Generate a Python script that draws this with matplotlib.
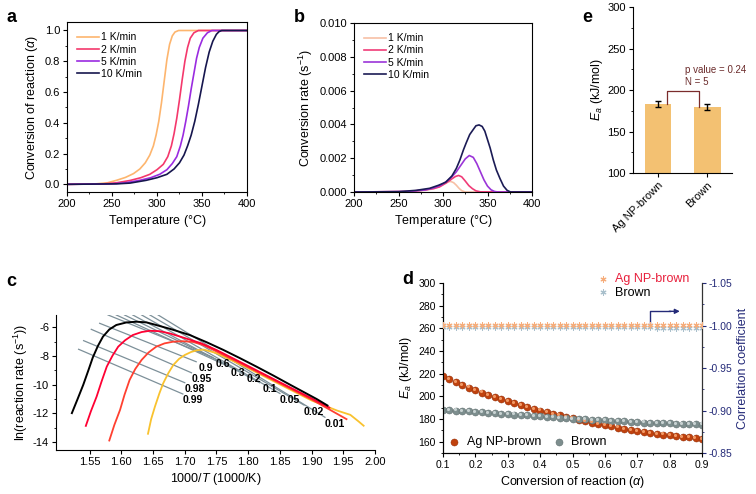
import numpy as np
import matplotlib
matplotlib.use('Agg')
import matplotlib.pyplot as plt
from matplotlib.ticker import MultipleLocator, FormatStrFormatter
from matplotlib import transforms

plt.rcParams['font.family'] = ['Liberation Sans', 'DejaVu Sans']
plt.rcParams['mathtext.fontset'] = 'custom'
plt.rcParams['mathtext.rm'] = 'Liberation Sans'
plt.rcParams['mathtext.it'] = 'Liberation Sans:italic'
plt.rcParams['mathtext.bf'] = 'Liberation Sans:bold'
plt.rcParams['axes.unicode_minus'] = False
plt.rcParams['axes.linewidth'] = 0.8

# ---- panel a : conversion vs temperature ----
rates = ['1 K/min', '2 K/min', '5 K/min', '10 K/min']
a_T1 = [200, 230, 245, 255, 265, 274, 281, 287, 292, 296, 299, 302, 305, 308, 311, 314, 317, 320, 324, 400]
a_y1 = [0, 0.002, 0.01, 0.026, 0.045, 0.07, 0.1, 0.14, 0.19, 0.25, 0.32, 0.41, 0.53, 0.67, 0.81, 0.91, 0.965, 0.99, 1.0, 1.0]
a_T2 = [200, 240, 255, 270, 282, 292, 300, 307, 312, 316, 319, 322, 325, 328, 331, 334, 337, 341, 346, 400]
a_y2 = [0, 0.003, 0.01, 0.025, 0.043, 0.065, 0.095, 0.13, 0.18, 0.25, 0.33, 0.43, 0.55, 0.68, 0.80, 0.89, 0.95, 0.985, 1.0, 1.0]
a_T5 = [200, 250, 265, 281, 293, 303, 311, 317, 322, 326, 329, 332, 335, 338, 341, 344, 347, 351, 356, 361, 400]
a_y5 = [0, 0.003, 0.01, 0.026, 0.043, 0.065, 0.095, 0.135, 0.18, 0.25, 0.32, 0.41, 0.51, 0.62, 0.72, 0.82, 0.89, 0.95, 0.985, 1.0, 1.0]
a_T10 = [200, 255, 270, 288, 300, 311, 319, 325, 330, 334, 338, 342, 346, 350, 354, 358, 362, 366, 369, 372, 400]
a_y10 = [0, 0.003, 0.008, 0.026, 0.043, 0.065, 0.1, 0.14, 0.19, 0.25, 0.32, 0.41, 0.52, 0.64, 0.76, 0.86, 0.93, 0.975, 0.993, 1.0, 1.0]

# ---- panel b : conversion rate vs temperature ----
b_T1 = [200, 260, 280, 290, 297, 302, 306, 309, 312, 315, 318, 321, 325, 400]
b_y1 = [0, 0.00002, 0.0001, 0.0002, 0.00035, 0.0005, 0.00061, 0.00062, 0.00055, 0.0004, 0.00022, 0.00008, 0.0, 0]
b_T2 = [200, 260, 275, 289, 296, 304, 310, 314, 317.5, 321, 325, 329, 333, 337, 342, 400]
b_y2 = [0, 0.00003, 0.0001, 0.0002, 0.0003, 0.00055, 0.00078, 0.00092, 0.00098, 0.0009, 0.00065, 0.00038, 0.0002, 0.00007, 0.00001, 0]
b_T5 = [200, 260, 280, 290, 298, 304, 310, 315, 320, 325, 329.5, 334, 338, 342, 346, 350, 354, 358, 362, 400]
b_y5 = [0, 0.00003, 0.00012, 0.00025, 0.00042, 0.00063, 0.0009, 0.0012, 0.00158, 0.00196, 0.00216, 0.00205, 0.00168, 0.0012, 0.00072, 0.00035, 0.00013, 0.00003, 0, 0]
b_T10 = [200, 250, 270, 285, 295, 303, 310, 315, 319, 323, 326, 330, 334, 337, 340.5, 344, 347, 350, 353, 356.5, 360, 364, 368, 372, 376, 400]
b_y10 = [0, 0.00002, 0.0001, 0.00022, 0.0004, 0.00058, 0.00095, 0.0014, 0.0019, 0.0025, 0.0029, 0.0034, 0.0037, 0.00392, 0.00397, 0.00388, 0.0036, 0.0031, 0.0026, 0.0019, 0.0013, 0.0008, 0.00035, 0.0001, 0, 0]

# ---- panel c : Friedman plot ----
c_k_x = [1.522, 1.531, 1.540, 1.548, 1.555, 1.563, 1.571, 1.581, 1.592, 1.608, 1.624, 1.640, 1.655, 1.680, 1.708, 1.735, 1.761, 1.787, 1.813, 1.840, 1.866, 1.887, 1.908, 1.925]
c_k_y = [-11.98, -11.0, -10.0, -9.0, -8.1, -7.3, -6.65, -6.15, -5.84, -5.66, -5.61, -5.66, -5.84, -6.15, -6.54, -7.05, -7.58, -8.15, -8.74, -9.37, -10.0, -10.5, -11.0, -11.45]
c_r_x = [1.544, 1.552, 1.561, 1.569, 1.577, 1.586, 1.595, 1.606, 1.618, 1.632, 1.645, 1.660, 1.676, 1.700, 1.725, 1.750, 1.800, 1.850, 1.900, 1.928]
c_r_y = [-12.87, -11.85, -10.83, -9.75, -8.74, -7.98, -7.35, -6.9, -6.54, -6.33, -6.24, -6.27, -6.42, -6.75, -7.1, -7.58, -8.70, -9.83, -10.95, -11.6]
c_o_x = [1.581, 1.589, 1.598, 1.605, 1.613, 1.622, 1.632, 1.643, 1.655, 1.668, 1.682, 1.697, 1.713, 1.730, 1.750, 1.800, 1.850, 1.900, 1.955]
c_o_y = [-13.89, -12.8, -11.75, -10.7, -9.67, -8.9, -8.27, -7.75, -7.35, -7.12, -7.0, -6.97, -7.02, -7.25, -7.68, -8.78, -9.9, -11.03, -12.4]
c_y_x = [1.642, 1.647, 1.653, 1.660, 1.666, 1.674, 1.682, 1.691, 1.700, 1.710, 1.719, 1.730, 1.750, 1.800, 1.850, 1.900, 1.940, 1.961, 1.974, 1.982]
c_y_y = [-13.42, -12.4, -11.52, -10.6, -9.9, -9.2, -8.62, -8.2, -7.93, -7.72, -7.6, -7.55, -7.8, -8.85, -9.98, -11.1, -11.8, -12.1, -12.56, -12.86]

iso_labels = ['0.99', '0.98', '0.95', '0.9', '0.6', '0.3', '0.2', '0.1', '0.05', '0.02', '0.01']
iso_x0 = [1.5326, 1.5405, 1.5526, 1.5658, 1.579, 1.592, 1.605, 1.618, 1.632, 1.645, 1.658]
iso_y0 = [-7.53, -6.93, -6.14, -5.72, -5.14, -5.14, -5.14, -5.14, -5.14, -5.14, -5.14]
iso_x1 = [1.697, 1.700, 1.7106, 1.718, 1.744, 1.768, 1.793, 1.818, 1.850, 1.888, 1.921]
iso_y1 = [-10.65, -9.86, -9.17, -8.40, -8.10, -8.71, -9.17, -9.86, -10.61, -11.42, -12.27]

# ---- panel d : activation energy and correlation ----
d_alpha = [0.10, 0.12, 0.14, 0.16, 0.18, 0.20, 0.22, 0.24, 0.26, 0.28, 0.30, 0.32, 0.34, 0.36,
           0.38, 0.40, 0.42, 0.44, 0.46, 0.48, 0.50, 0.52, 0.54, 0.56, 0.58, 0.60, 0.62, 0.64,
           0.66, 0.68, 0.70, 0.72, 0.74, 0.76, 0.78, 0.80, 0.82, 0.84, 0.86, 0.88, 0.90]
d_ea_ag = [218.0, 215.2, 212.6, 210.1, 207.7, 205.4, 203.3, 201.3, 199.4, 197.6, 195.9, 194.1, 192.4, 190.7,
           189.1, 187.5, 186.0, 184.5, 183.1, 181.8, 180.5, 179.3, 178.1, 176.9, 175.7, 174.6, 173.5, 172.5,
           171.5, 170.5, 169.6, 168.7, 167.9, 167.1, 166.3, 165.6, 164.9, 164.3, 163.7, 163.1, 162.6]
d_ea_br = [188.3, 187.9, 187.5, 187.1, 186.7, 186.3, 185.9, 185.5, 185.1, 184.7, 184.3, 183.9, 183.5, 183.1,
           182.7, 182.3, 181.9, 181.5, 181.1, 180.7, 180.3, 179.9, 179.6, 179.3, 179.0, 178.7, 178.4, 178.1,
           177.8, 177.5, 177.2, 176.9, 176.7, 176.5, 176.3, 176.1, 175.9, 175.7, 175.5, 175.3, 175.1]
d_r_ag = [-1.0005] * 41
d_r_br = [-0.9980, -0.9980, -0.9980, -0.9980, -0.9980, -0.9980, -0.9980, -0.9980, -0.9980, -0.9980,
          -0.9980, -0.9980, -0.9980, -0.9980, -0.9980, -0.9980, -0.9980, -0.9980, -0.9980, -0.9980,
          -0.9980, -0.9980, -0.9980, -0.9980, -0.9980, -0.9980, -0.9980, -0.9980, -0.9980, -0.9980,
          -0.9980, -0.9980, -0.9978, -0.9976, -0.9976, -0.9974, -0.9974, -0.9972, -0.9972, -0.9970, -0.9968]

# ---- panel e : mean activation energy ----
e_cats = ['Ag NP-brown', 'Brown']
e_vals = [183.2, 180.0]
e_err = [4.0, 3.5]

a_cols = ['#fdb56e', '#f4386c', '#9a2be0', '#16164e']
b_cols = ['#f7c0a5', '#f03c78', '#9b35d8', '#1b1b55']

fig = plt.figure(figsize=(7.56, 4.94), dpi=100)

TICK = 8
LAB = 9


def style_ticks(ax, size=TICK):
    ax.tick_params(which='major', direction='out', length=3, width=0.8, labelsize=size, pad=2)
    ax.tick_params(which='minor', direction='out', length=1.6, width=0.6)


# panel a
axa = fig.add_axes([0.0886, 0.6113, 0.2381, 0.3441])
for T, y, c, lab in zip([a_T1, a_T2, a_T5, a_T10], [a_y1, a_y2, a_y5, a_y10], a_cols, rates):
    axa.plot(T, y, color=c, lw=1.2, label=lab)
axa.set_xlim(200, 400)
axa.set_ylim(-0.05, 1.055)
axa.xaxis.set_major_locator(MultipleLocator(50))
axa.xaxis.set_minor_locator(MultipleLocator(25))
axa.yaxis.set_major_locator(MultipleLocator(0.2))
axa.yaxis.set_minor_locator(MultipleLocator(0.1))
axa.yaxis.set_major_formatter(FormatStrFormatter('%.1f'))
style_ticks(axa)
axa.set_xlabel('Temperature ($\\degree$C)', fontsize=LAB, labelpad=3)
axa.set_ylabel('Conversion of reaction ($\\alpha$)', fontsize=LAB, labelpad=3)
axa.legend(loc='upper left', bbox_to_anchor=(0.055, 0.94), frameon=False, fontsize=7.5,
           handlelength=2.1, handletextpad=0.25, labelspacing=0.22, borderpad=0, borderaxespad=0)

# panel b
axb = fig.add_axes([0.4683, 0.6113, 0.2354, 0.3421])
for T, y, c, lab in zip([b_T1, b_T2, b_T5, b_T10], [b_y1, b_y2, b_y5, b_y10], b_cols, rates):
    axb.plot(T, y, color=c, lw=1.2, label=lab)
axb.set_xlim(200, 400)
axb.set_ylim(0, 0.010)
axb.xaxis.set_major_locator(MultipleLocator(50))
axb.xaxis.set_minor_locator(MultipleLocator(25))
axb.yaxis.set_major_locator(MultipleLocator(0.002))
axb.yaxis.set_minor_locator(MultipleLocator(0.001))
axb.yaxis.set_major_formatter(FormatStrFormatter('%.3f'))
style_ticks(axb)
axb.set_xlabel('Temperature ($\\degree$C)', fontsize=LAB, labelpad=3)
axb.set_ylabel('Conversion rate (s$^{-1}$)', fontsize=LAB, labelpad=3)
axb.legend(loc='upper left', bbox_to_anchor=(0.055, 0.94), frameon=False, fontsize=7.5,
           handlelength=2.1, handletextpad=0.25, labelspacing=0.22, borderpad=0, borderaxespad=0)

# panel e
axe = fig.add_axes([0.8373, 0.6498, 0.131, 0.336])
xe = np.arange(len(e_cats))
axe.bar(xe, e_vals, width=0.55, color='#f3c172', zorder=2)
axe.errorbar(xe, e_vals, yerr=e_err, fmt='none', ecolor='black', elinewidth=1.0,
             capsize=2, capthick=1.0, zorder=3)
axe.plot([0.19, 0.19, 0.84, 0.84], [e_vals[0], 199, 199, e_vals[1]], color='#7b2c2c', lw=0.9, zorder=3)
axe.text(0.55, 204, 'p value = 0.24\nN = 5', fontsize=7, color='#6b2b2b', ha='left', va='bottom',
         linespacing=1.15)
axe.set_xlim(-0.51, 1.51)
axe.set_ylim(100, 300)
axe.set_xticks(xe)
axe.set_xticklabels(e_cats, rotation=45, ha='right', va='top', rotation_mode='anchor')
axe.yaxis.set_major_locator(MultipleLocator(50))
axe.yaxis.set_minor_locator(MultipleLocator(25))
for s in ['top', 'right']:
    axe.spines[s].set_visible(False)
style_ticks(axe)
axe.set_ylabel('$E_a$ (kJ/mol)', fontsize=LAB, labelpad=2)

# panel c
axc = fig.add_axes([0.0741, 0.0891, 0.422, 0.2733])
for x0, y0, x1, y1, lab in zip(iso_x0, iso_y0, iso_x1, iso_y1, iso_labels):
    axc.plot([x0, x1], [y0, y1], color='#7d9099', lw=0.9, zorder=1)
    axc.text(x1 + 0.016, y1 - 0.45, lab, fontsize=7.5, fontweight='bold', ha='center', va='center')
axc.plot(c_y_x, c_y_y, color='#f9c22e', lw=1.3, zorder=2)
axc.plot(c_o_x, c_o_y, color='#ff4030', lw=1.3, zorder=3)
axc.plot(c_r_x, c_r_y, color='#ff0033', lw=1.3, zorder=4)
axc.plot(c_k_x, c_k_y, color='black', lw=1.4, zorder=5)
axc.set_xlim(1.497, 2.0)
axc.set_ylim(-14.55, -5.14)
axc.set_xticks([1.55, 1.60, 1.65, 1.70, 1.75, 1.80, 1.85, 1.90, 1.95, 2.00])
axc.xaxis.set_major_formatter(FormatStrFormatter('%.2f'))
axc.yaxis.set_major_locator(MultipleLocator(2))
axc.yaxis.set_minor_locator(MultipleLocator(1))
for s in ['top', 'right']:
    axc.spines[s].set_visible(False)
style_ticks(axc)
axc.set_xlabel('1000/$T$ (1000/K)', fontsize=LAB, labelpad=3)
axc.set_ylabel('ln(reaction rate (s$^{-1}$))', fontsize=LAB, labelpad=2)

# panel d
axd = fig.add_axes([0.586, 0.083, 0.3426, 0.3441])
ax2 = axd.twinx()
navy = '#242a78'
ax2.scatter(d_alpha, d_r_br, marker=(6, 2, 0), s=14, color='#a9c0cc', lw=0.8, zorder=2)
ax2.scatter(d_alpha, d_r_ag, marker=(6, 2, 0), s=14, color='#f6ad7b', lw=0.8, zorder=3)
ax2.plot([0.738, 0.738, 0.80], [-0.999, -1.0167, -1.0167], color=navy, lw=1.0)
ax2.annotate('', xy=(0.84, -1.0167), xytext=(0.79, -1.0167),
             arrowprops=dict(arrowstyle='-|>', color=navy, lw=1.0, mutation_scale=7))
ax2.set_ylim(-0.85, -1.05)
ax2.yaxis.set_major_locator(MultipleLocator(0.05))
ax2.yaxis.set_minor_locator(MultipleLocator(0.025))
ax2.yaxis.set_major_formatter(FormatStrFormatter('%.2f'))
style_ticks(ax2, 7.5)
ax2.tick_params(axis='y', colors=navy, which='both')
ax2.spines['right'].set_color('#333333')
ax2.set_ylabel('Correlation coefficient', fontsize=LAB, color=navy, labelpad=3)
for s in ['top']:
    ax2.spines[s].set_visible(False)
    axd.spines[s].set_visible(False)
ax2.scatter([], [], marker=(6, 2, 0), s=14, color='#f6ad7b', lw=0.8, label='Ag NP-brown')
ax2.scatter([], [], marker=(6, 2, 0), s=14, color='#a9c0cc', lw=0.8, label='Brown')
leg2 = ax2.legend(loc='upper left', bbox_to_anchor=(0.6, 1.06), frameon=False, fontsize=9,
                  handlelength=0.8, handletextpad=0.5, labelspacing=0.15, borderpad=0, borderaxespad=0)
leg2.get_texts()[0].set_color('#e8203c')

hl = transforms.offset_copy(axd.transData, fig=fig, x=-0.8, y=0.8, units='points')
h1 = axd.scatter(d_alpha, d_ea_ag, s=26, color='#c0420e', edgecolors='#8a2c08', lw=0.3, zorder=3)
axd.scatter(d_alpha, d_ea_ag, s=5, color='#f29a66', lw=0, zorder=4, transform=hl)
h2 = axd.scatter(d_alpha, d_ea_br, s=26, color='#7d8e8e', edgecolors='#5b6868', lw=0.3, zorder=3)
axd.scatter(d_alpha, d_ea_br, s=5, color='#c8d2d2', lw=0, zorder=4, transform=hl)
axd.set_xlim(0.1, 0.9)
axd.set_ylim(150, 300)
axd.xaxis.set_major_locator(MultipleLocator(0.1))
axd.xaxis.set_minor_locator(MultipleLocator(0.05))
axd.xaxis.set_major_formatter(FormatStrFormatter('%.1f'))
axd.yaxis.set_minor_locator(MultipleLocator(10))
axd.set_yticks([160, 180, 200, 220, 240, 260, 280, 300])
style_ticks(axd, 7.5)
axd.set_xlabel('Conversion of reaction ($\\alpha$)', fontsize=LAB, labelpad=3)
axd.set_ylabel('$E_a$ (kJ/mol)', fontsize=LAB, labelpad=3)
axd.legend([h1, h2], ['Ag NP-brown', 'Brown'], loc='lower left', bbox_to_anchor=(0.025, 0.03), ncol=2,
           frameon=False, fontsize=9, handlelength=0.8, handletextpad=0.6, columnspacing=1.0,
           borderpad=0, borderaxespad=0)

# panel letters
for x, y, t in [(0.008, 0.965, 'a'), (0.388, 0.965, 'b'), (0.77, 0.965, 'e'),
                (0.008, 0.43, 'c'), (0.532, 0.435, 'd')]:
    fig.text(x, y, t, fontsize=13, fontweight='bold', va='center')

fig.savefig('out.png', dpi=100)
